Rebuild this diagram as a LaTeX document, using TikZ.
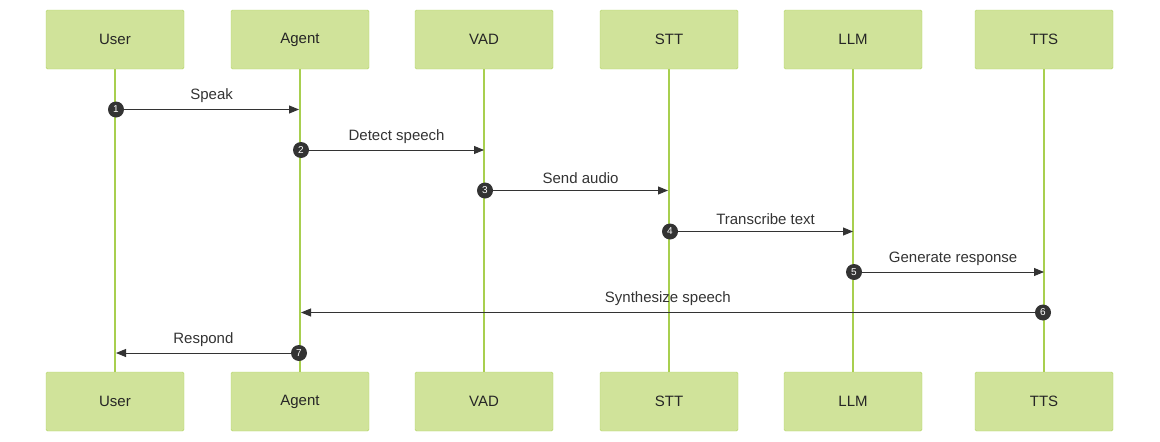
\documentclass[tikz,border=0pt]{standalone}
\usepackage{fontspec}
\setmainfont{Liberation Sans}
\usetikzlibrary{arrows.meta}
\definecolor{boxfill}{HTML}{D0E39A}
\definecolor{boxline}{HTML}{B3D465}
\definecolor{life}{HTML}{A8CF4F}
\definecolor{ink}{HTML}{333333}
\begin{document}
\begin{tikzpicture}[x=1pt,y=-1pt,
 actor/.style={draw=boxline,fill=boxfill,minimum width=138pt,minimum height=59pt,inner sep=0pt,rounded corners=1.5pt,font=\fontsize{15}{18}\selectfont,text=black!85},
 badge/.style={circle,fill=ink,text=white,minimum size=16pt,inner sep=0pt,font=\fontsize{10}{12}\selectfont},
 msg/.style={draw=ink,line width=0.9pt,-{Triangle[length=10pt,width=8pt]}},
 lbl/.style={font=\fontsize{15}{18}\selectfont,text=ink,anchor=south},
 lifeline/.style={draw=life,line width=1.5pt}]
\useasboundingbox (0,0) rectangle (1160,442);
\foreach \n/\t/\x in {u/User/115,a/Agent/300,v/VAD/484,s/STT/669,l/LLM/853,t/TTS/1044}{
  \draw[lifeline] (\x,69) -- (\x,372);
  \node[actor] (\n top) at (\x,39.5) {\t};
  \node[actor] (\n bot) at (\x,401.5) {\t};
}
\node[badge] (b1) at (116,109.5) {1};
\coordinate (e1) at (299,109.5);
\draw[msg] (b1) -- (e1) node[lbl,midway,above=3pt] {Speak};
\node[badge] (b2) at (301,150) {2};
\coordinate (e2) at (484,150);
\draw[msg] (b2) -- (e2) node[lbl,midway,above=3pt] {Detect speech};
\node[badge] (b3) at (485,190.5) {3};
\coordinate (e3) at (668,190.5);
\draw[msg] (b3) -- (e3) node[lbl,midway,above=3pt] {Send audio};
\node[badge] (b4) at (670,231.5) {4};
\coordinate (e4) at (853,231.5);
\draw[msg] (b4) -- (e4) node[lbl,midway,above=3pt] {Transcribe text};
\node[badge] (b5) at (854,272) {5};
\coordinate (e5) at (1044,272);
\draw[msg] (b5) -- (e5) node[lbl,midway,above=3pt] {Generate response};
\node[badge] (b6) at (1043,312.5) {6};
\coordinate (e6) at (301,312.5);
\draw[msg] (b6) -- (e6) node[lbl,midway,above=3pt] {Synthesize speech};
\node[badge] (b7) at (299,353) {7};
\coordinate (e7) at (116,353);
\draw[msg] (b7) -- (e7) node[lbl,midway,above=3pt] {Respond};
\end{tikzpicture}
\end{document}
